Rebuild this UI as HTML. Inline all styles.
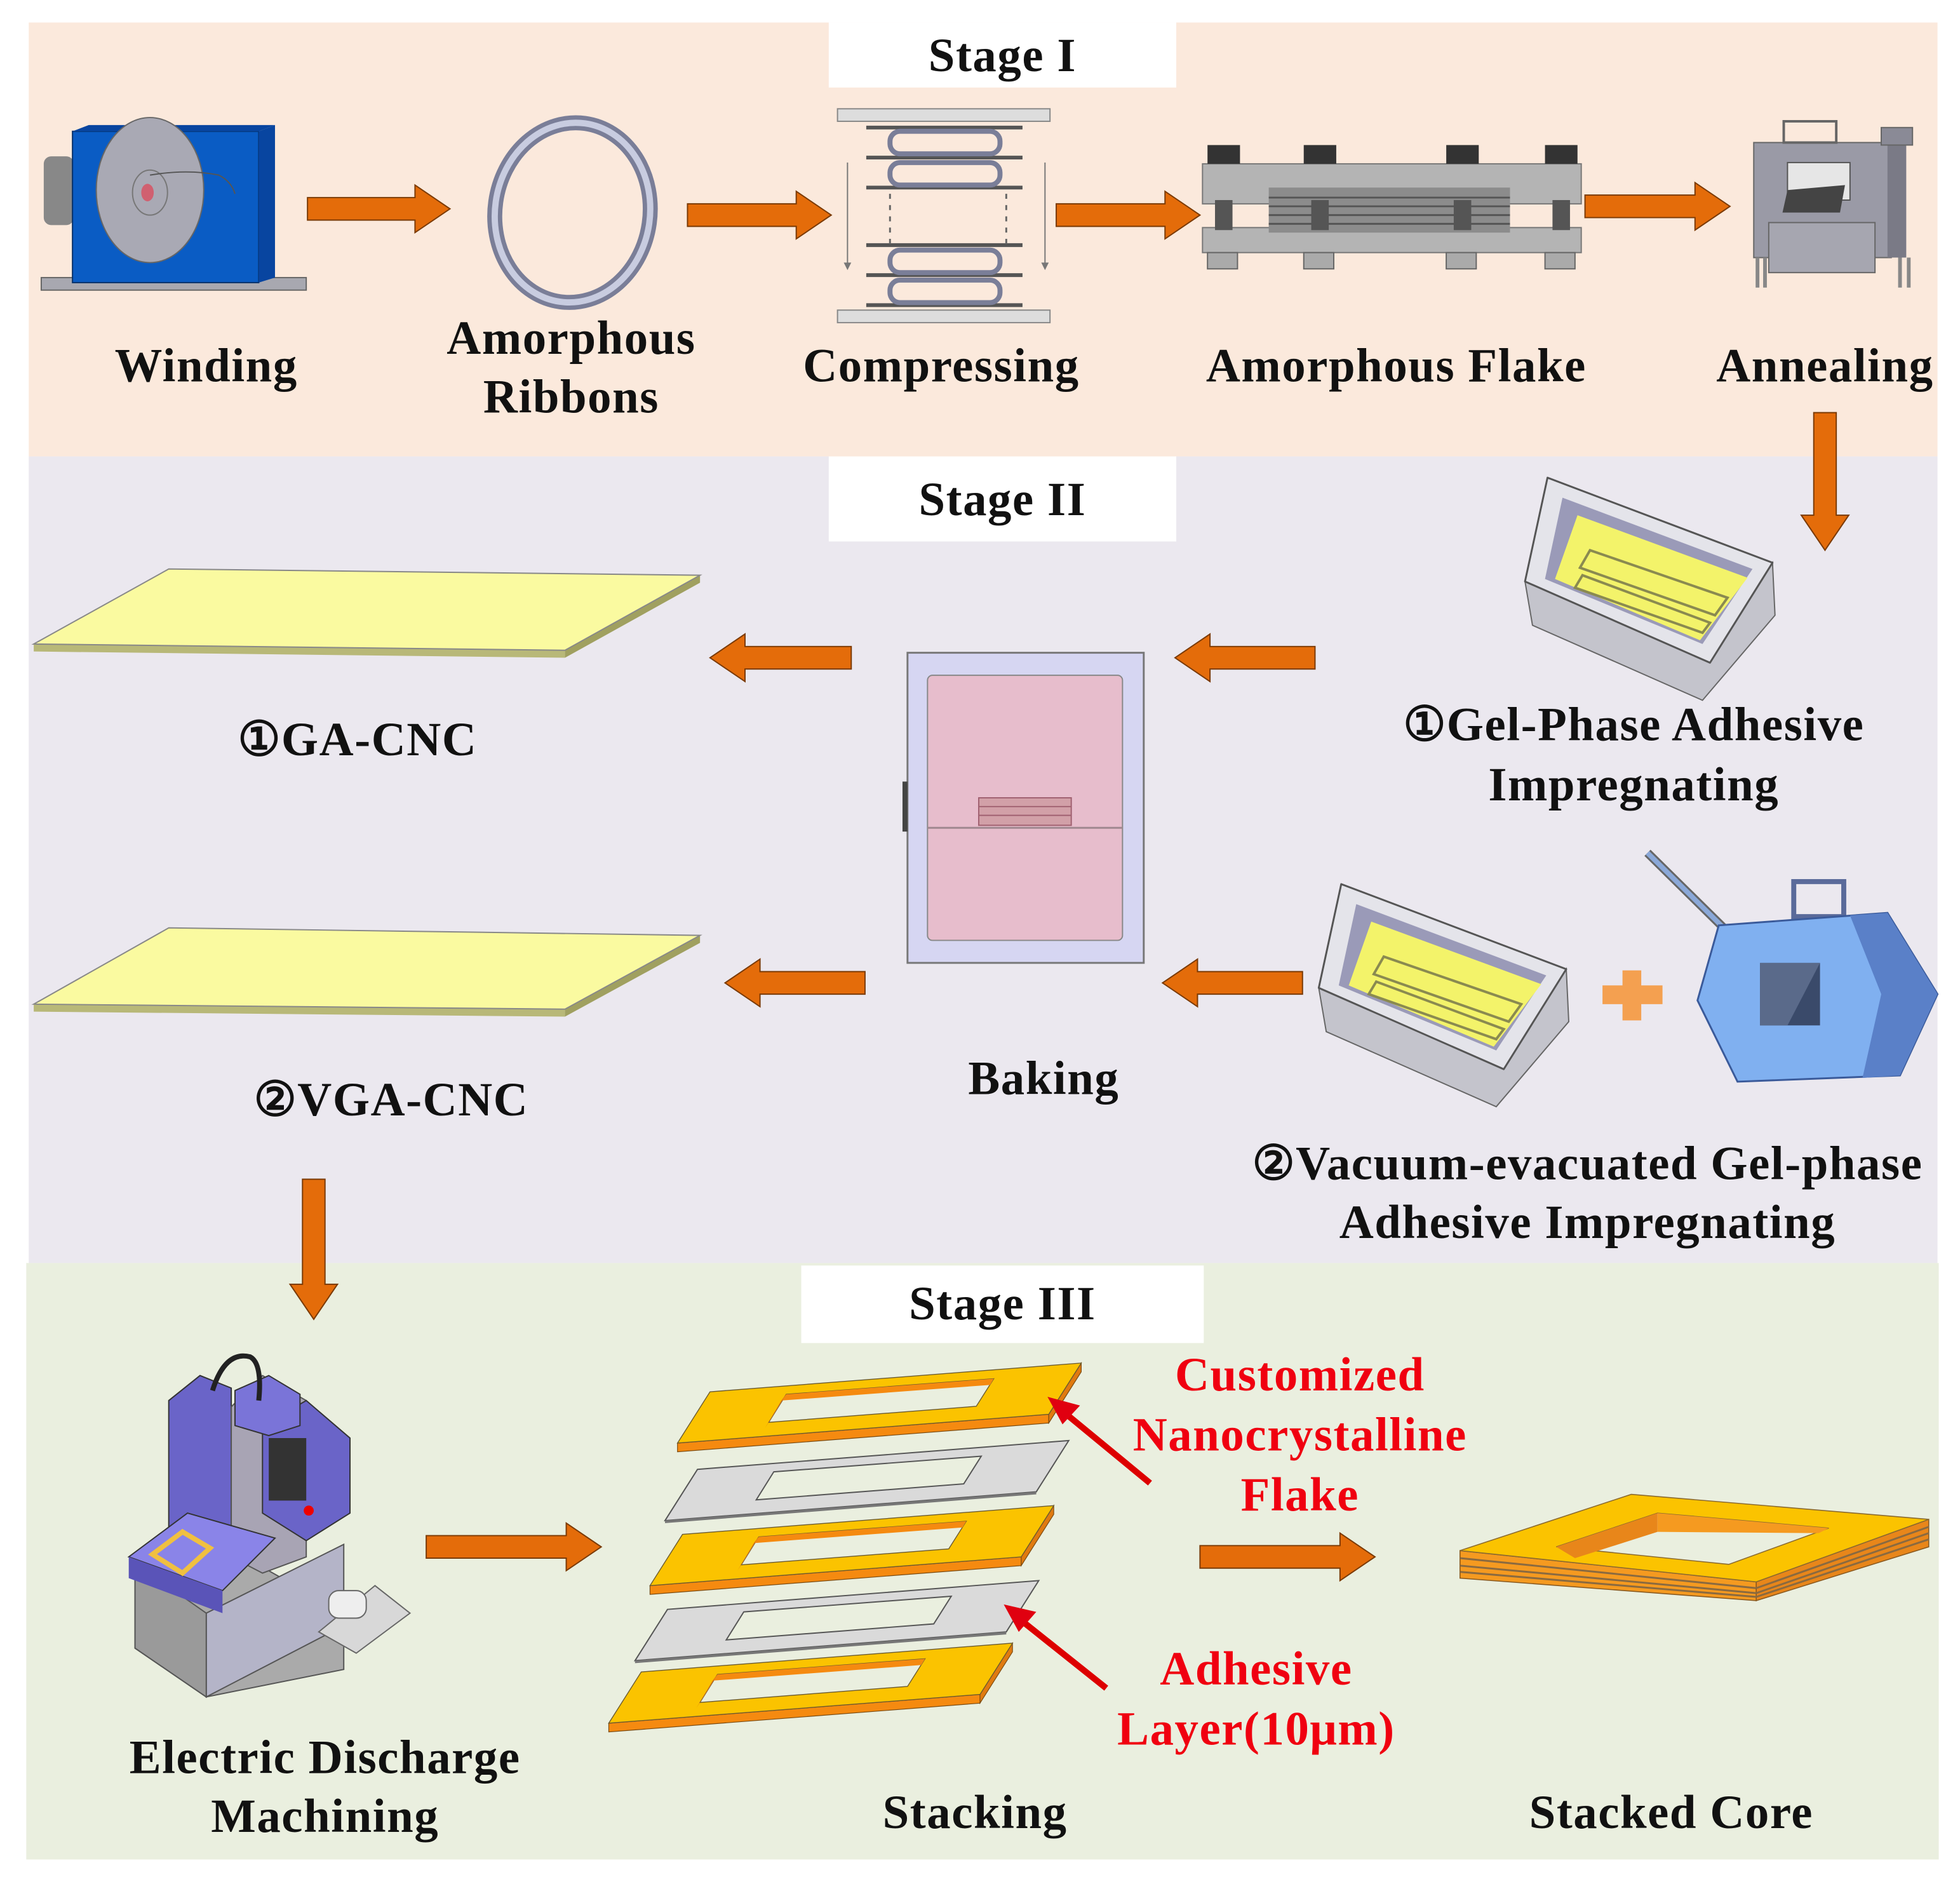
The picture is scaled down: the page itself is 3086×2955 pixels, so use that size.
<!DOCTYPE html>
<html><head><meta charset="utf-8"><style>
html,body{margin:0;padding:0;background:#fff}
svg{display:block}
text{font-family:"Liberation Serif","DejaVu Serif",serif;font-weight:bold;font-size:38px;letter-spacing:0.8px;text-anchor:middle;fill:#111}
.r{fill:#f00010}
</style></head><body>
<svg width="3086" height="2955" viewBox="0 0 1568 1501" preserveAspectRatio="none" xmlns="http://www.w3.org/2000/svg">
<defs>
<g id="oring">
<polygon points="-26,41 271,18 271,25 -26,48" fill="#f58a10" stroke="#7a4a10" stroke-width="0.6"/>
<polygon points="297,-23 271,18 271,25 297,-16" fill="#e07a10" stroke="#7a4a10" stroke-width="0.6"/>
<path d="M0,0 L297,-23 L271,18 L-26,41 Z M61,2 L227,-10.5 L213,11.6 L47,24.4 Z" fill="#fbc300" fill-rule="evenodd" stroke="#6a5a30" stroke-width="0.7"/>
<polygon points="61,2 227,-10.5 224,-5.5 57,7" fill="#f58a10"/>
<polygon points="61,2 57,7 44,29 47,24.4" fill="#e07a10"/>
</g>
<g id="gring">
<path d="M0,0 L297,-23 L271,18 L-26,41 Z M61,2 L227,-10.5 L213,11.6 L47,24.4 Z" fill="#dadada" fill-rule="evenodd" stroke="#555" stroke-width="1"/>
<polygon points="-26,41 271,18 271,20 -26,43" fill="#777"/>
</g>
<g id="tub">
<polygon points="1220,465 1368,530 1418,450 1420,492 1362,560 1226,500" fill="#c4c4cc" stroke="#666" stroke-width="1"/>
<polygon points="1238,382 1418,450 1368,530 1220,465" fill="#e4e4ea" stroke="#555" stroke-width="1.5" stroke-linejoin="round"/>
<polygon points="1250,398 1402,455 1362,515 1236,463" fill="#9a9ab8"/>
<polygon points="1262,412 1398,462 1360,512 1244,463" fill="#f3f36a"/>
<polygon points="1272,440 1382,478 1372,492 1264,454" fill="none" stroke="#8a8a50" stroke-width="2"/>
<polygon points="1266,460 1368,498 1362,506 1260,470" fill="none" stroke="#8a8a50" stroke-width="2"/>
</g>
</defs>

<rect x="0" y="0" width="1568" height="1501" fill="#fff"/>
<rect x="23" y="18" width="1527" height="347" fill="#fbe9dc"/>
<rect x="23" y="365" width="1527" height="645" fill="#ebe8ef"/>
<rect x="21" y="1010" width="1530" height="477" fill="#eaefdf"/>
<rect x="663" y="18" width="278" height="52" fill="#fff"/>
<rect x="663" y="365" width="278" height="68" fill="#fff"/>
<rect x="641" y="1012" width="322" height="62" fill="#fff"/>
<text x="802" y="57">Stage I</text>
<text x="802" y="412">Stage II</text>
<text x="802" y="1055">Stage III</text>

<!-- Winding -->
<rect x="33" y="222" width="212" height="10" fill="#a8a8b0" stroke="#666" stroke-width="1"/>
<rect x="35" y="125" width="24" height="55" rx="6" fill="#888"/>
<rect x="58" y="105" width="149" height="121" fill="#0a5cc4" stroke="#04306a" stroke-width="1"/>
<polygon points="58,105 207,105 220,100 71,100" fill="#0845a0"/>
<polygon points="207,105 220,100 220,222 207,226" fill="#0845a0"/>
<ellipse cx="120" cy="152" rx="43" ry="58" fill="#a9a9b4" stroke="#666"/>
<ellipse cx="120" cy="154" rx="14" ry="18" fill="none" stroke="#777"/>
<ellipse cx="118" cy="154" rx="5" ry="7" fill="#d06070"/>
<path d="M120,140 Q150,135 175,140 Q185,145 188,155" fill="none" stroke="#555" stroke-width="1"/>

<!-- ring -->
<ellipse cx="458" cy="170" rx="62" ry="72" fill="none" stroke="#7a7e98" stroke-width="12" transform="rotate(8 458 170)"/>
<ellipse cx="458" cy="170" rx="62" ry="72" fill="none" stroke="#c8cce0" stroke-width="5" transform="rotate(8 458 170)"/>

<!-- compressing -->
<rect x="670" y="87" width="170" height="10" fill="#ddd" stroke="#888"/>
<rect x="670" y="248" width="170" height="10" fill="#ddd" stroke="#888"/>
<g fill="none" stroke="#555" stroke-width="3">
<line x1="693" y1="102" x2="818" y2="102"/><line x1="693" y1="126" x2="818" y2="126"/><line x1="693" y1="150" x2="818" y2="150"/>
<line x1="693" y1="196" x2="818" y2="196"/><line x1="693" y1="220" x2="818" y2="220"/><line x1="693" y1="244" x2="818" y2="244"/>
</g>
<g fill="none" stroke="#7a7e98" stroke-width="4">
<rect x="712" y="105" width="88" height="18" rx="8"/><rect x="712" y="130" width="88" height="18" rx="8"/>
<rect x="712" y="200" width="88" height="18" rx="8"/><rect x="712" y="224" width="88" height="18" rx="8"/>
</g>
<g stroke="#666" stroke-width="1.5" stroke-dasharray="4,5"><line x1="712" y1="155" x2="712" y2="195"/><line x1="805" y1="155" x2="805" y2="195"/></g>
<g stroke="#777" stroke-width="1"><line x1="678" y1="130" x2="678" y2="212"/><line x1="836" y1="130" x2="836" y2="212"/></g>
<polygon points="675,210 681,210 678,216" fill="#777"/><polygon points="833,210 839,210 836,216" fill="#777"/>

<!-- amorphous flake press -->
<rect x="962" y="131" width="303" height="32" fill="#b4b4b4" stroke="#777"/>
<rect x="962" y="182" width="303" height="20" fill="#b4b4b4" stroke="#777"/>
<rect x="1015" y="150" width="193" height="36" fill="#8c8c8c"/>
<g stroke="#555" stroke-width="1.5"><line x1="1015" y1="158" x2="1208" y2="158"/><line x1="1015" y1="165" x2="1208" y2="165"/><line x1="1015" y1="172" x2="1208" y2="172"/><line x1="1015" y1="179" x2="1208" y2="179"/></g>
<g fill="#333"><rect x="966" y="116" width="26" height="15"/><rect x="1043" y="116" width="26" height="15"/><rect x="1157" y="116" width="26" height="15"/><rect x="1236" y="116" width="26" height="15"/></g>
<g fill="#555"><rect x="972" y="160" width="14" height="24"/><rect x="1049" y="160" width="14" height="24"/><rect x="1163" y="160" width="14" height="24"/><rect x="1242" y="160" width="14" height="24"/></g>
<g fill="#aaa" stroke="#666"><rect x="966" y="202" width="24" height="13"/><rect x="1043" y="202" width="24" height="13"/><rect x="1157" y="202" width="24" height="13"/><rect x="1236" y="202" width="24" height="13"/></g>

<!-- annealing -->
<rect x="1403" y="114" width="110" height="92" fill="#9a9aa6" stroke="#666"/>
<polygon points="1510,114 1525,108 1525,206 1510,206" fill="#7a7a86"/>
<rect x="1505" y="102" width="25" height="14" fill="#8a8a96" stroke="#666"/>
<rect x="1427" y="97" width="42" height="17" fill="none" stroke="#666" stroke-width="2"/>
<rect x="1430" y="130" width="50" height="30" fill="#e6e6e6" stroke="#555"/>
<polygon points="1430,152 1476,148 1472,170 1426,170" fill="#444"/>
<rect x="1415" y="178" width="85" height="40" fill="#a6a6b0" stroke="#666"/>
<g stroke="#888" stroke-width="3"><line x1="1406" y1="206" x2="1406" y2="230"/><line x1="1412" y1="206" x2="1412" y2="230"/><line x1="1520" y1="206" x2="1520" y2="230"/><line x1="1527" y1="206" x2="1527" y2="230"/></g>

<text x="165" y="305">Winding</text>
<text x="457" y="283">Amorphous</text>
<text x="457" y="330">Ribbons</text>
<text x="753" y="305">Compressing</text>
<text x="1117" y="305">Amorphous Flake</text>
<text x="1460" y="305">Annealing</text>

<!-- Stage II sheets -->
<polygon points="27,515 452,520 452,526 27,521" fill="#b8b878"/>
<polygon points="452,520 560,460 560,466 452,526" fill="#a0a060"/>
<polygon points="27,515 135,455 560,460 452,520" fill="#fafaa0" stroke="#888" stroke-width="1"/>
<polygon points="27,803 452,807 452,813 27,809" fill="#b8b878"/>
<polygon points="452,807 560,748 560,754 452,813" fill="#a0a060"/>
<polygon points="27,803 135,742 560,748 452,807" fill="#fafaa0" stroke="#888" stroke-width="1"/>
<text x="286" y="604">①GA-CNC</text>
<text x="313" y="892">②VGA-CNC</text>

<!-- oven -->
<rect x="726" y="522" width="189" height="248" fill="#d6d6f2" stroke="#777" stroke-width="1.5"/>
<rect x="742" y="540" width="156" height="212" rx="4" fill="#e7bdcc" stroke="#888"/>
<line x1="742" y1="662" x2="898" y2="662" stroke="#a08890" stroke-width="1.5"/>
<rect x="783" y="638" width="74" height="22" fill="#d2a0a8" stroke="#a06070"/>
<g stroke="#a06070"><line x1="783" y1="645" x2="857" y2="645"/><line x1="783" y1="652" x2="857" y2="652"/></g>
<rect x="722" y="625" width="4" height="40" fill="#444"/>
<text x="835" y="875">Baking</text>

<use href="#tub"/>
<use href="#tub" transform="translate(-165,325)"/>
<text x="1307" y="592">①Gel-Phase Adhesive</text>
<text x="1307" y="640">Impregnating</text>

<rect x="1298" y="776" width="15" height="40" fill="#f4a050"/>
<rect x="1282" y="788" width="48" height="15" fill="#f4a050"/>

<!-- vacuum machine -->
<line x1="1318" y1="682" x2="1385" y2="748" stroke="#666" stroke-width="7"/>
<line x1="1318" y1="682" x2="1385" y2="748" stroke="#8aa8d8" stroke-width="4"/>
<rect x="1435" y="705" width="40" height="28" fill="none" stroke="#5a6a9a" stroke-width="4"/>
<polygon points="1375,740 1510,730 1550,795 1520,860 1390,865 1358,800" fill="#80b0f0" stroke="#3a5a9a" stroke-width="1.5"/>
<polygon points="1480,732 1510,730 1550,795 1520,860 1490,862 1505,795" fill="#5a80c8"/>
<rect x="1408" y="770" width="48" height="50" fill="#3a4a6a"/>
<polygon points="1408,770 1456,770 1430,820 1408,820" fill="#5a6a8a"/>
<text x="1270" y="943">②Vacuum-evacuated Gel-phase</text>
<text x="1270" y="990">Adhesive Impregnating</text>

<!-- EDM machine -->
<polygon points="108,1250 160,1225 275,1290 275,1335 165,1357 108,1318" fill="#aaa" stroke="#555"/>
<polygon points="165,1290 165,1357 275,1300 275,1235" fill="#b4b4c8" stroke="#555"/>
<polygon points="108,1250 165,1290 165,1357 108,1318" fill="#9a9a9a" stroke="#555"/>
<polygon points="135,1120 160,1100 185,1110 185,1245 160,1258 135,1245" fill="#6a64c8" stroke="#333"/>
<polygon points="185,1125 210,1100 245,1120 245,1245 210,1258 185,1245" fill="#a8a4b4" stroke="#555"/>
<polygon points="210,1140 245,1120 280,1150 280,1210 245,1232 210,1210" fill="#6a64c8" stroke="#333"/>
<rect x="215" y="1150" width="30" height="50" fill="#333"/>
<circle cx="247" cy="1208" r="4" fill="#e00"/>
<polygon points="188,1112 215,1100 240,1115 240,1140 215,1148 188,1140" fill="#7a74d8" stroke="#333"/>
<path d="M170,1112 Q180,1080 200,1085 Q210,1090 207,1120" fill="none" stroke="#222" stroke-width="4"/>
<polygon points="103,1245 150,1210 220,1230 178,1272" fill="#8a84e8" stroke="#333"/>
<polygon points="122,1243 146,1225 168,1238 146,1258" fill="none" stroke="#f0c040" stroke-width="4"/>
<polygon points="103,1245 178,1272 178,1290 103,1262" fill="#5a54b8"/>
<polygon points="255,1305 300,1268 328,1290 285,1322" fill="#d8d8d8" stroke="#666"/>
<rect x="263" y="1272" width="30" height="22" rx="8" fill="#eee" stroke="#666"/>
<text x="260" y="1418">Electric Discharge</text>
<text x="260" y="1465">Machining</text>

<use href="#oring" transform="translate(568,1113)"/>
<use href="#gring" transform="translate(558,1175)"/>
<use href="#oring" transform="translate(546,1227)"/>
<use href="#gring" transform="translate(534,1287)"/>
<use href="#oring" transform="translate(513,1337)"/>

<line x1="920" y1="1186" x2="852" y2="1130" stroke="#d00" stroke-width="5"/>
<polygon points="838,1117 864,1124 850,1139" fill="#e00010"/>
<line x1="885" y1="1350" x2="816" y2="1295" stroke="#d00" stroke-width="5"/>
<polygon points="803,1283 829,1289 815,1305" fill="#e00010"/>
<text class="r" x="1040" y="1112">Customized</text>
<text class="r" x="1040" y="1160">Nanocrystalline</text>
<text class="r" x="1040" y="1208">Flake</text>
<text class="r" x="1005" y="1347">Adhesive</text>
<text class="r" x="1005" y="1395">Layer(10μm)</text>
<text x="780" y="1462">Stacking</text>

<!-- stacked core -->
<polygon points="1168,1240 1405,1265 1405,1280 1168,1262" fill="#f59a20" stroke="#8a5a20" stroke-width="0.8"/>
<polygon points="1405,1265 1543,1215 1543,1237 1405,1280" fill="#e8861a" stroke="#8a5a20" stroke-width="0.8"/>
<g stroke="#8a6a40" stroke-width="1.5"><line x1="1168" y1="1246" x2="1405" y2="1270"/><line x1="1168" y1="1252" x2="1405" y2="1274"/><line x1="1168" y1="1257" x2="1405" y2="1277"/>
<line x1="1405" y1="1270" x2="1543" y2="1221"/><line x1="1405" y1="1274" x2="1543" y2="1226"/><line x1="1405" y1="1277" x2="1543" y2="1231"/></g>
<path d="M1168,1240 L1305,1195 L1543,1215 L1405,1265 Z M1245,1237 L1326,1210 L1463,1222 L1383,1251 Z" fill="#fbc300" fill-rule="evenodd" stroke="#8a6a30" stroke-width="0.8"/>
<polygon points="1245,1237 1326,1210 1326,1225 1260,1246" fill="#e8861a"/>
<polygon points="1326,1210 1463,1222 1455,1226 1326,1225" fill="#f59a20"/>
<text x="1337" y="1462">Stacked Core</text>

<g fill="#e46c0a" stroke="#7a3a05" stroke-width="1">
<polygon points="246,158 332,158 332,148 360,167 332,186 332,176 246,176"/>
<polygon points="550,163 637,163 637,153 665,172 637,191 637,181 550,181"/>
<polygon points="845,163 932,163 932,153 960,172 932,191 932,181 845,181"/>
<polygon points="1268,156 1356,156 1356,146 1384,165 1356,184 1356,174 1268,174"/>
<polygon points="1451,330 1451,412 1441,412 1460,440 1479,412 1469,412 1469,330"/>
<polygon points="1052,517 968,517 968,507 940,526 968,545 968,535 1052,535"/>
<polygon points="681,517 596,517 596,507 568,526 596,545 596,535 681,535"/>
<polygon points="1042,777 958,777 958,767 930,786 958,805 958,795 1042,795"/>
<polygon points="692,777 608,777 608,767 580,786 608,805 608,795 692,795"/>
<polygon points="242,943 242,1027 232,1027 251,1055 270,1027 260,1027 260,943"/>
<polygon points="341,1228 453,1228 453,1218 481,1237 453,1256 453,1246 341,1246"/>
<polygon points="960,1236 1072,1236 1072,1226 1100,1245 1072,1264 1072,1254 960,1254"/>
</g>
</svg>
</body></html>
